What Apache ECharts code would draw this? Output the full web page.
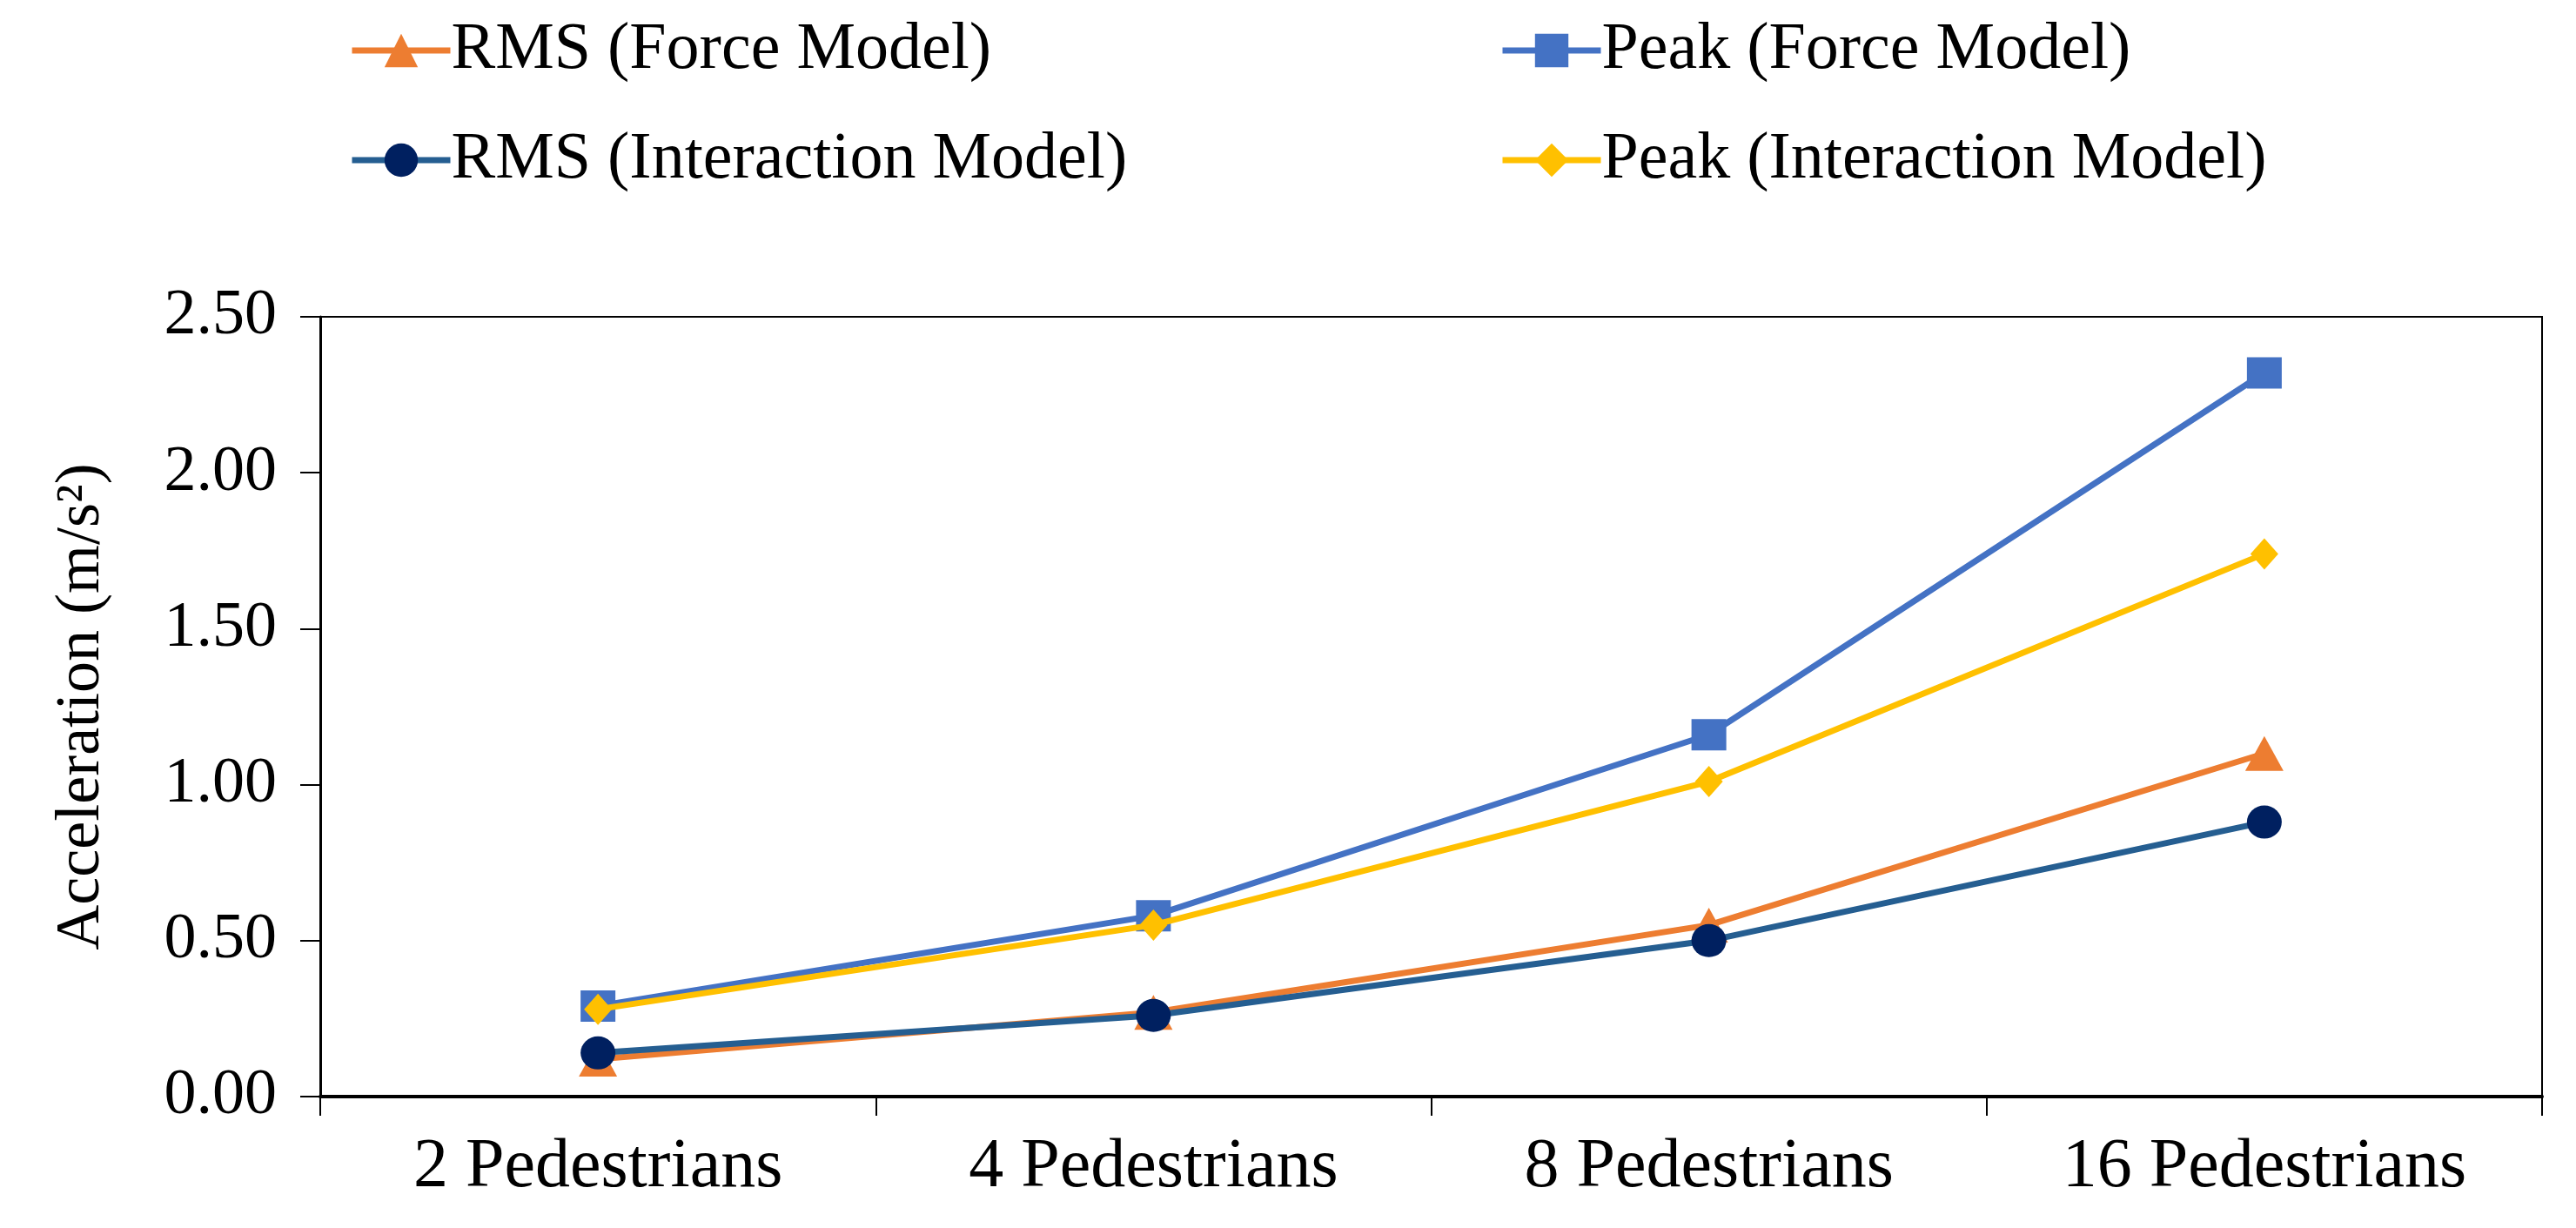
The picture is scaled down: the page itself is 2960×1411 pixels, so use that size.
<!DOCTYPE html>
<html>
<head>
<meta charset="utf-8">
<script src="https://cdn.jsdelivr.net/npm/echarts@6/dist/echarts.min.js"></script>
<style>
html,body{margin:0;padding:0;background:#fff;}
#chart{width:2960px;height:1411px;}
</style>
</head>
<body>
<div id="chart"></div>
<script>
const categories = ['2 Pedestrians', '4 Pedestrians', '8 Pedestrians', '16 Pedestrians'];
const rmsForce = [0.12, 0.27, 0.55, 1.10];
const peakForce = [0.29, 0.58, 1.16, 2.32];
const rmsInteraction = [0.14, 0.26, 0.50, 0.88];
const peakInteraction = [0.28, 0.55, 1.01, 1.74];
const yTicks = { min: 0, max: 2.5, interval: 0.5 };

const FONT = 'Liberation Serif';
const chart = echarts.init(document.getElementById('chart'));

const legendText = { fontFamily: FONT, fontSize: 76, color: '#000', padding: [0, 0, 0, -4] };
const legendBase = {
  orient: 'vertical', top: 15, itemGap: 50,
  itemWidth: 113, itemHeight: 48,
  lineStyle: { width: 7 },
  textStyle: legendText
};

chart.setOption({
  backgroundColor: '#fff',
  animation: false,
  legend: [
    Object.assign({}, legendBase, { left: 396, data: ['RMS (Force Model)', 'RMS (Interaction Model)'] }),
    Object.assign({}, legendBase, { left: 1718, data: ['Peak (Force Model)', 'Peak (Interaction Model)'] })
  ],
  grid: {
    left: 368, right: 39, top: 364, bottom: 151,
    show: true, borderColor: '#000', borderWidth: 2, backgroundColor: 'transparent'
  },
  xAxis: {
    type: 'category',
    data: categories,
    boundaryGap: true,
    axisLine: { show: true, lineStyle: { color: '#000', width: 4 } },
    axisTick: { show: true, length: 22, lineStyle: { color: '#000', width: 2 } },
    axisLabel: { fontFamily: FONT, fontSize: 80, color: '#000', margin: 42 }
  },
  yAxis: {
    type: 'value',
    min: yTicks.min, max: yTicks.max, interval: yTicks.interval,
    name: 'Acceleration (m/s²)',
    nameLocation: 'middle',
    nameGap: 238,
    nameTextStyle: { fontFamily: FONT, fontSize: 72, color: '#000' },
    axisLine: { show: true, lineStyle: { color: '#000', width: 3 } },
    axisTick: { show: true, length: 23, lineStyle: { color: '#000', width: 2 } },
    splitLine: { show: false },
    axisLabel: {
      fontFamily: FONT, fontSize: 74, color: '#000', margin: 50,
      formatter: v => v.toFixed(2)
    }
  },
  series: [
    {
      name: 'RMS (Force Model)', type: 'line', data: rmsForce,
      symbol: 'triangle', symbolSize: [44, 40],
      lineStyle: { color: '#ED7D31', width: 7 },
      itemStyle: { color: '#ED7D31' }, z: 2
    },
    {
      name: 'Peak (Force Model)', type: 'line', data: peakForce,
      symbol: 'rect', symbolSize: [40, 36],
      lineStyle: { color: '#4472C4', width: 7 },
      itemStyle: { color: '#4472C4' }, z: 2
    },
    {
      name: 'RMS (Interaction Model)', type: 'line', data: rmsInteraction,
      symbol: 'circle', symbolSize: [40, 38],
      lineStyle: { color: '#255E91', width: 7 },
      itemStyle: { color: '#002060' }, z: 3
    },
    {
      name: 'Peak (Interaction Model)', type: 'line', data: peakInteraction,
      symbol: 'diamond', symbolSize: [32, 36],
      lineStyle: { color: '#FFC000', width: 7 },
      itemStyle: { color: '#FFC000' }, z: 3
    }
  ]
});
</script>
</body>
</html>
